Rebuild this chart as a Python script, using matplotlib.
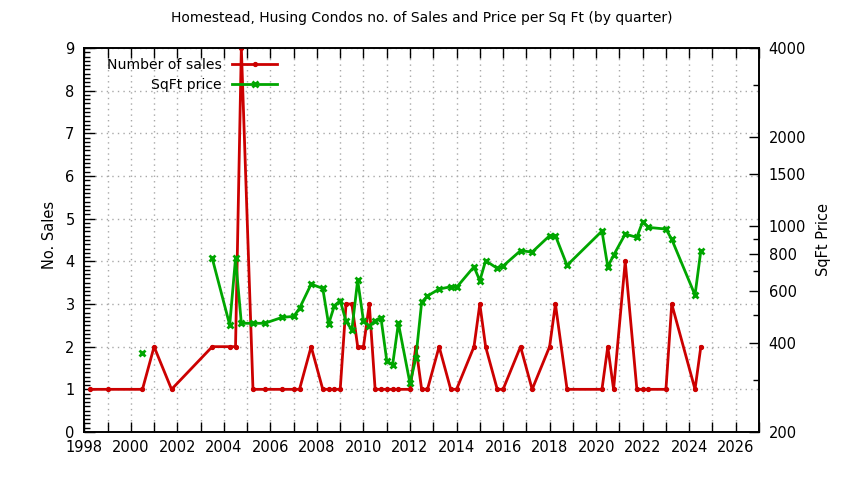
import numpy as np
import matplotlib
matplotlib.use("Agg")
import matplotlib.pyplot as plt
from matplotlib.ticker import MultipleLocator, FixedLocator, FixedFormatter, NullFormatter

# quarter positions (decimal years)
quarters = [1998.25, 1999.0, 2000.5, 2001.0, 2001.75, 2003.5, 2004.25, 2004.5,
            2004.75, 2005.25, 2005.75, 2006.5, 2007.0, 2007.25, 2007.75, 2008.25,
            2008.5, 2008.75, 2009.0, 2009.25, 2009.5, 2009.75, 2010.0, 2010.25,
            2010.5, 2010.75, 2011.0, 2011.25, 2011.5, 2012.0, 2012.25, 2012.5,
            2012.75, 2013.25, 2013.75, 2014.0, 2014.75, 2015.0, 2015.25, 2015.75,
            2016.0, 2016.75, 2017.25, 2018.0, 2018.25, 2018.75, 2020.25, 2020.5,
            2020.75, 2021.25, 2021.75, 2022.0, 2022.25, 2023.0, 2023.25, 2024.25,
            2024.5]

sales = [1, 1, 1, 2, 1, 2, 2, 2,
         9, 1, 1, 1, 1, 1, 2, 1,
         1, 1, 1, 3, 3, 2, 2, 3,
         1, 1, 1, 1, 1, 1, 2, 1,
         1, 2, 1, 1, 2, 3, 2, 1,
         1, 2, 1, 2, 3, 1, 1, 2,
         1, 4, 1, 1, 1, 1, 3, 1,
         2]

nan = float("nan")
sqft_price = [nan, nan, 370, nan, nan, 775, 461, 775,
              467, 467, 467, 489, 493, 525, 634, 613,
              464, 536, 557, 475, 443, 654, 475, 457,
              477, 488, 349, 337, 467, 292, 356, 550,
              578, 610, 621, 618, 726, 651, 761, 717,
              730, 823, 814, 925, 925, 734, 959, 726,
              794, 937, 913, 1032, 987, 974, 899, 582,
              823]

price_ticks = [200, 400, 600, 800, 1000, 1500, 2000, 4000]
price_minor = [300, 500, 700, 900, 3000]

RED = "#cc0000"
GREEN = "#00a600"
FS = 9.5

plt.rcParams["font.family"] = "DejaVu Sans"
plt.rcParams["font.size"] = FS

fig = plt.figure(figsize=(8.44, 4.8), dpi=100)
ax1 = fig.add_axes([84.3 / 844, 48 / 480, (759 - 84.3) / 844, 384 / 480])
ax2 = ax1.twinx()

l1, = ax1.plot(quarters, sales, color=RED, lw=2, marker="o", ms=2.8,
               label="Number of sales", zorder=3)
l2, = ax2.plot(quarters, sqft_price, color=GREEN, lw=2, marker="x", ms=4.5,
               mew=2, label="SqFt price", zorder=3)

ax1.set_xlim(1998, 2027)
ax1.set_ylim(0, 9)
ax2.set_yscale("log")
ax2.set_ylim(200, 4000)

# x ticks: every year, labels every 2
ax1.xaxis.set_major_locator(MultipleLocator(2))
ax1.xaxis.set_minor_locator(MultipleLocator(1))
ax1.yaxis.set_major_locator(MultipleLocator(1))
ax1.yaxis.set_minor_locator(MultipleLocator(0.1))
ax1.tick_params(axis="x", which="both", direction="in", top=True, length=7,
                width=1, pad=6, labelsize=FS + 1)
ax1.tick_params(axis="y", which="major", direction="in", length=8, width=1,
                pad=7, labelsize=FS + 1, right=False)
ax1.tick_params(axis="y", which="minor", direction="in", length=4, width=1,
                right=False)

ax2.yaxis.set_major_locator(FixedLocator(price_ticks))
ax2.yaxis.set_major_formatter(FixedFormatter([str(t) for t in price_ticks]))
ax2.yaxis.set_minor_locator(FixedLocator(price_minor))
ax2.yaxis.set_minor_formatter(NullFormatter())
ax2.tick_params(axis="y", which="major", direction="in", length=7, width=1,
                pad=7, labelsize=FS + 1)
ax2.tick_params(axis="y", which="minor", direction="in", length=4, width=1)

# grid: horizontal on left axis majors, vertical every year
ax1.grid(True, axis="y", which="major", color="#a8a8a8", ls=(0, (1, 3)), lw=1)
ax1.grid(True, axis="x", which="both", color="#a8a8a8", ls=(0, (1, 3)), lw=1)
ax1.set_axisbelow(True)

for ax in (ax1, ax2):
    for s in ax.spines.values():
        s.set_linewidth(1.2)

ax1.set_ylabel("No. Sales", fontsize=FS + 1)
ax1.yaxis.set_label_coords(-0.04, 0.513)
ax2.set_ylabel("SqFt Price", fontsize=FS + 1)
ax2.yaxis.set_label_coords(1.085, 0.5)

fig.text(0.5, 1 - 18 / 480, "Homestead, Husing Condos no. of Sales and Price per Sq Ft (by quarter)",
         ha="center", va="center", fontsize=FS + 0.5)

ax2.legend([l1, l2], ["Number of sales", "SqFt price"], loc="upper right",
           bbox_to_anchor=(277 / 844, 1 - 58 / 480), bbox_transform=fig.transFigure,
           frameon=False, markerfirst=False, borderpad=0, borderaxespad=0,
           handlelength=3.2, handletextpad=0.75, labelspacing=0.45,
           fontsize=FS + 0.6)

fig.savefig("out.png", dpi=100)
